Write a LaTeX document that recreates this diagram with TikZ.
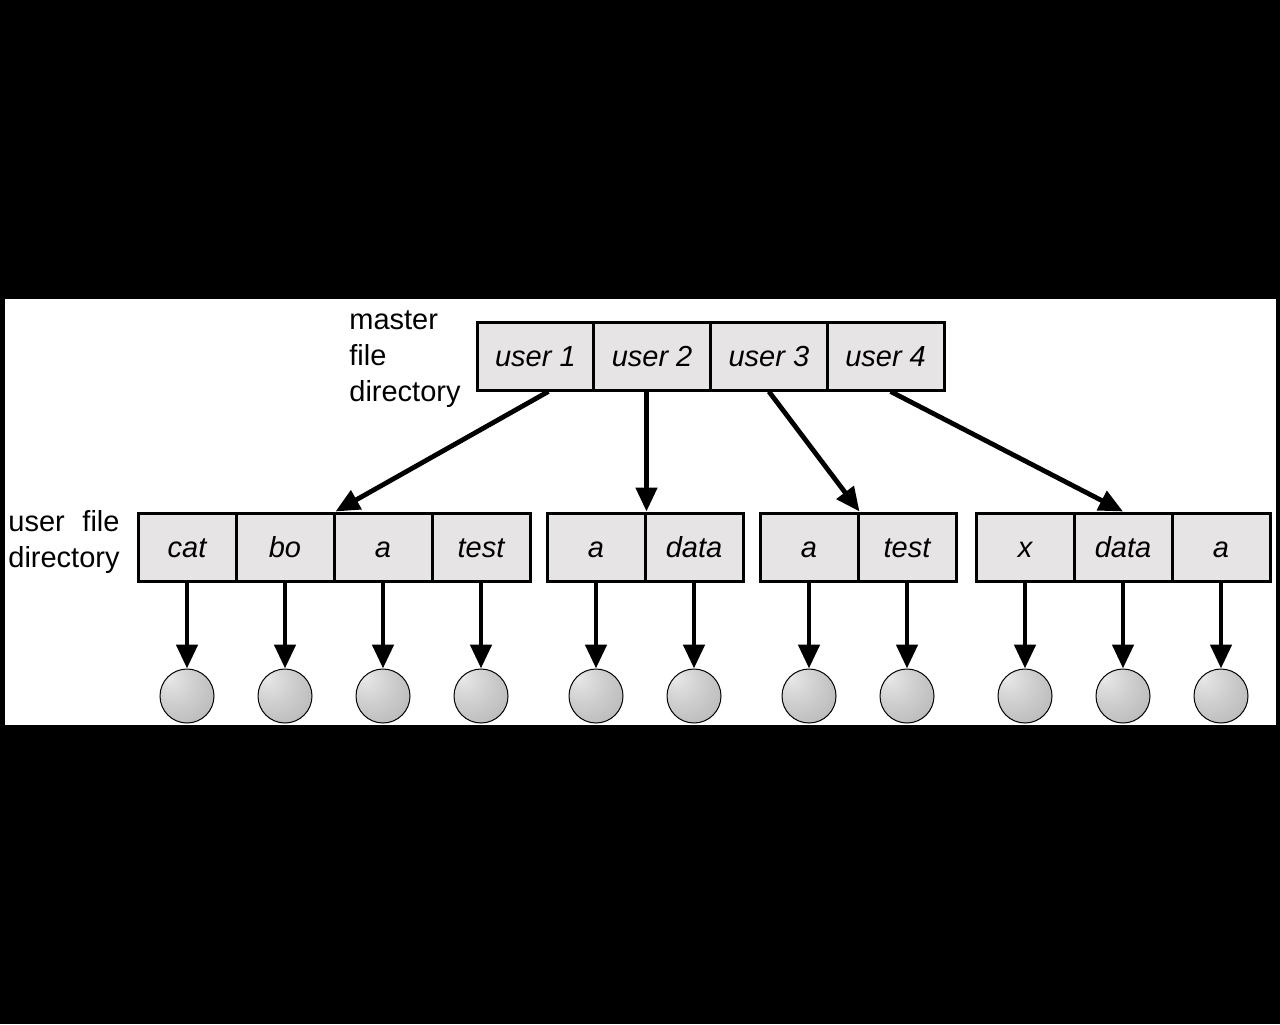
\documentclass[tikz,border=0pt]{standalone}
\usepackage{fontspec}
\setmainfont{Liberation Sans}
\usepackage{calc}
\usetikzlibrary{arrows.meta,calc}
\definecolor{cellgray}{RGB}{231,228,230}
\pgfdeclareradialshading{fileball}{\pgfpoint{-18bp}{18bp}}{color(0bp)=(gray!16); color(6bp)=(gray!24); color(20bp)=(gray!38); color(40bp)=(gray!55); color(60bp)=(gray!75); color(72bp)=(gray!88)}
\begin{document}
\begin{tikzpicture}[x=0.5pt,y=-0.5pt, font=\fontsize{14.5}{18}\selectfont,
  cell/.style={draw, line width=1.5pt, fill=cellgray, inner sep=0pt, minimum height=34pt, text height=10.5pt, text depth=0pt, font=\fontsize{14.5}{18}\selectfont\itshape},
  mcell/.style={cell, minimum width=58.4pt},
  ucell/.style={cell, minimum width=49pt},
  fball/.style={circle, draw, line width=0.5pt, minimum size=27pt, inner sep=0pt, shading=fileball},
  link/.style={line width=2.4pt, -{Triangle[length=12pt,width=10.5pt]}},
  lbl/.style={anchor=base west, align=left, inner sep=0pt}]
\useasboundingbox (0,0) rectangle (1280,1024);
\fill[black] (0,0) rectangle (1280,1024);
\fill[white] (5,299) rectangle (1276,725);

% labels (base anchor = baseline of the last line)
\node[lbl] (mfd) at (349,401) {master\\file\\directory};
\node[lbl] (ufd) at (8,567) {\makebox[\widthof{directory}][s]{user file}\\directory};

% master directory
\node[mcell] (u1) at (535.4,356) {user 1};
\node[mcell] (u2) at (652.1,356) {user 2};
\node[mcell] (u3) at (768.9,356) {user 3};
\node[mcell] (u4) at (885.6,356) {user 4};

% user directories
\node[ucell] (g1a) at (187,547) {cat};
\node[ucell] (g1b) at (285,547) {bo};
\node[ucell] (g1c) at (383,547) {a};
\node[ucell] (g1d) at (481,547) {test};
\node[ucell] (g2a) at (596,547) {a};
\node[ucell] (g2b) at (694,547) {data};
\node[ucell] (g3a) at (809,547) {a};
\node[ucell] (g3b) at (907,547) {test};
\node[ucell] (g4a) at (1025,547) {x};
\node[ucell] (g4b) at (1123,547) {data};
\node[ucell] (g4c) at (1221,547) {a};

% files
\foreach \n/\x in {g1a/187,g1b/285,g1c/383,g1d/481,g2a/596,g2b/694,g3a/809,g3b/907,g4a/1025,g4b/1123,g4c/1221}{
  \node[fball] (f\n) at (\x,696) {};
  \draw[link] (\n.south) -- (f\n.north);
}

% master links
\draw[link] ($(u1.south)+(13,0)$) -- (g1b.north east);
\draw[link] (u2.south -| g2a.north east) -- (g2a.north east);
\draw[link] (u3.south) -- (g3a.north east);
\draw[link] ($(u4.south)+(5,0)$) -- (g4b.north);
\end{tikzpicture}
\end{document}
